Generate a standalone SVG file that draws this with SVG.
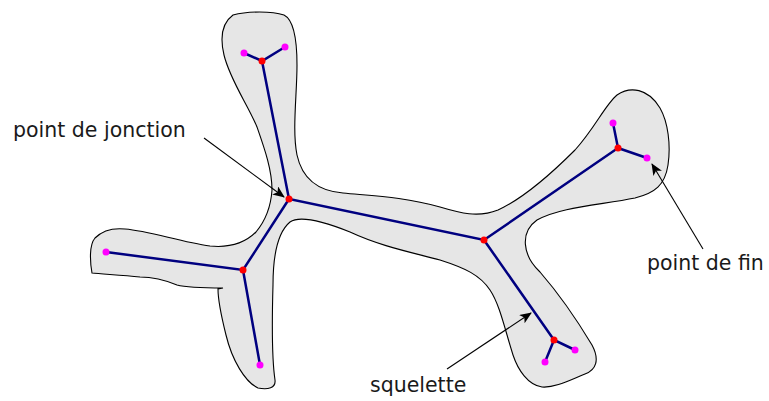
<svg xmlns="http://www.w3.org/2000/svg" width="769" height="401" viewBox="0 0 769 401">
<style>
.shape{fill:#e6e6e6;stroke:#000;stroke-width:1.1}
.sk{stroke:#000080;stroke-width:2.5;fill:none;stroke-linecap:round}
.j{fill:#ff0000}
.e{fill:#ff00ff}
.arr{stroke:#000;stroke-width:1.1;fill:none;marker-end:url(#ah)}
.lbl{font-family:"DejaVu Sans",sans-serif;font-size:20.5px;fill:#1a1a1a}
</style>
<defs>
<marker id="ah" viewBox="0 0 12 10" refX="11" refY="5" markerWidth="12" markerHeight="10" markerUnits="userSpaceOnUse" orient="auto">
<path d="M0,0 L12,5 L0,10 L3,5 Z" fill="#000"/>
</marker>
</defs>
<g id="shape">
<path class="shape" d="M233,15 C248,11 272,11 284,15 C294,20 297,40 297,65 C297,95 292,130 297,155 C302,178 318,191 343,193 C375,196 405,197 440,207 C460,213 478,218 498,210 C520,200 545,180 575,150 C595,128 605,105 617,95 C630,86 648,88 660,108 C668,122 671,145 668,165 C665,185 655,193 635,198 C600,205 560,207 537,220 C520,232 522,255 540,272 C560,295 580,325 592,345 C600,360 596,370 585,374 C570,380 555,388 542,387 C528,385 518,370 513,355 C505,330 500,305 490,290 C480,275 465,268 440,260 C410,252 380,246 350,232 C325,222 300,215 290,222 C278,232 273,255 273,285 C272,320 272,360 275,380 C276,388 268,390 258,388 C245,382 232,360 226,335 C221,315 218,300 218,289 L223,288 C205,288 188,288 177,285 C165,280 155,277 140,277 C120,275 100,274 92,273 C90,262 89,245 95,238 C103,230 115,228 125,229 C150,231 180,242 210,246 C230,248 245,243 256,232 C266,220 271,205 272,190 C272,170 265,150 257,127 C248,105 230,80 224,55 C220,38 222,23 233,15 Z"/>
</g>
<g id="skeleton">
<polyline class="sk" points="244,53 262,61 285,47"/>
<polyline class="sk" points="262,61 289,199 484,240 618,148 613,123"/>
<line class="sk" x1="618" y1="148" x2="647" y2="158"/>
<polyline class="sk" points="289,199 243,270 106,252"/>
<line class="sk" x1="243" y1="270" x2="260" y2="365"/>
<polyline class="sk" points="484,240 554,340 575,350"/>
<line class="sk" x1="554" y1="340" x2="545" y2="362"/>
</g>
<g id="junctions">
<circle class="j" cx="262" cy="61" r="3.5"/>
<circle class="j" cx="289" cy="199" r="3.5"/>
<circle class="j" cx="243" cy="270" r="3.5"/>
<circle class="j" cx="484" cy="240" r="3.5"/>
<circle class="j" cx="618" cy="148" r="3.5"/>
<circle class="j" cx="554" cy="340" r="3.5"/>
</g>
<g id="endpoints">
<circle class="e" cx="244" cy="53" r="3.5"/>
<circle class="e" cx="285" cy="47" r="3.5"/>
<circle class="e" cx="106" cy="252" r="3.5"/>
<circle class="e" cx="260" cy="365" r="3.5"/>
<circle class="e" cx="613" cy="123" r="3.5"/>
<circle class="e" cx="647" cy="158" r="3.5"/>
<circle class="e" cx="575" cy="350" r="3.5"/>
<circle class="e" cx="545" cy="362" r="3.5"/>
</g>
<g id="connectors">
<line class="arr" x1="204" y1="138" x2="284" y2="197"/>
<line class="arr" x1="703" y1="249" x2="652" y2="164"/>
<line class="arr" x1="447" y1="369" x2="531" y2="313"/>
</g>
<g id="labels">
<text class="lbl" x="13" y="137">point de jonction</text>
<text class="lbl" x="647" y="270">point de fin</text>
<text class="lbl" x="370" y="392">squelette</text>
</g>
</svg>
